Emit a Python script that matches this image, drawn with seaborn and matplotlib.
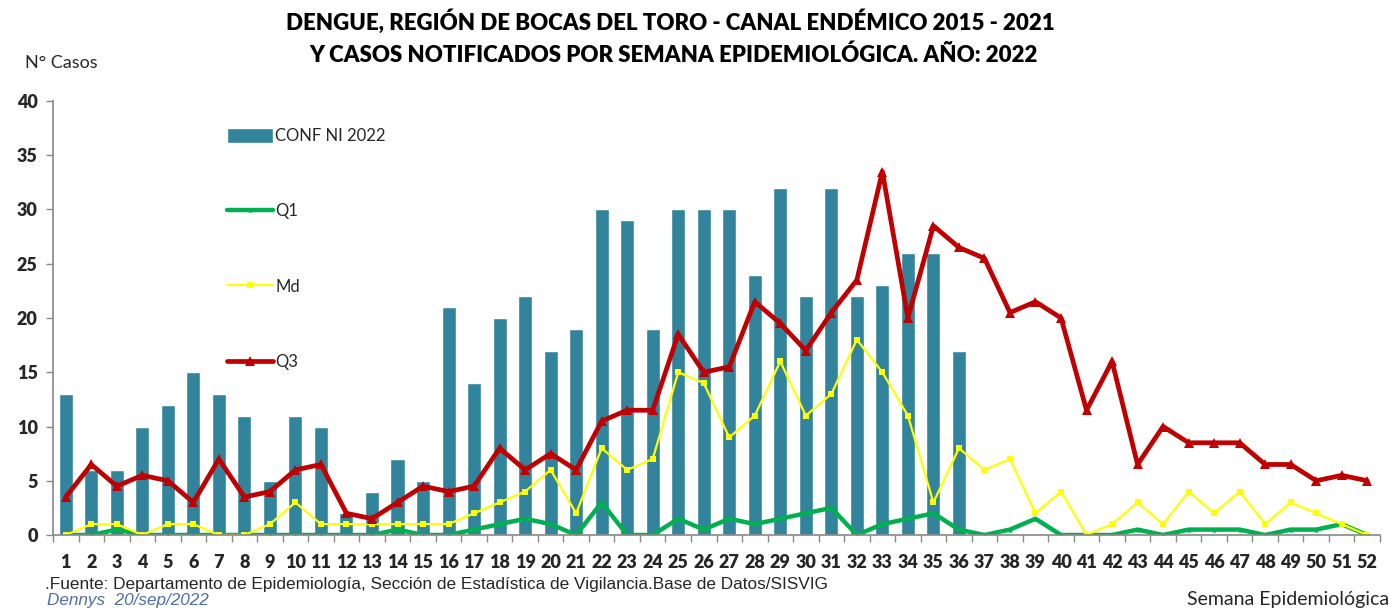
import numpy as np
import pandas as pd
import matplotlib
matplotlib.use("Agg")
import matplotlib.pyplot as plt
import seaborn as sns

weeks = list(range(1, 53))
conf_2022 = [13, 6, 6, 10, 12, 15, 13, 11, 5, 11, 10, 2, 4, 7, 5, 21, 14, 20, 22, 17,
             19, 30, 29, 19, 30, 30, 30, 24, 32, 22, 32, 22, 23, 26, 26, 17]
q1 = [0, 0, 0.5, 0, 0, 0, 0, 0, 0, 0, 0, 0, 0, 0.5, 0, 0, 0.5, 1, 1.5, 1,
      0, 3, 0, 0, 1.5, 0.5, 1.5, 1, 1.5, 2, 2.5, 0, 1, 1.5, 2, 0.5, 0, 0.5, 1.5, 0,
      0, 0, 0.5, 0, 0.5, 0.5, 0.5, 0, 0.5, 0.5, 1, 0]
md = [0, 1, 1, 0, 1, 1, 0, 0, 1, 3, 1, 1, 1, 1, 1, 1, 2, 3, 4, 6,
      2, 8, 6, 7, 15, 14, 9, 11, 16, 11, 13, 18, 15, 11, 3, 8, 6, 7, 2, 4,
      0, 1, 3, 1, 4, 2, 4, 1, 3, 2, 1, 0]
q3 = [3.5, 6.5, 4.5, 5.5, 5, 3, 7, 3.5, 4, 6, 6.5, 2, 1.5, 3, 4.5, 4, 4.5, 8, 6, 7.5,
      6, 10.5, 11.5, 11.5, 18.5, 15, 15.5, 21.5, 19.5, 17, 20.5, 23.5, 33.5, 20, 28.5, 26.5, 25.5, 20.5, 21.5, 20,
      11.5, 16, 6.5, 10, 8.5, 8.5, 8.5, 6.5, 6.5, 5, 5.5, 5]
y_ticks = [0, 5, 10, 15, 20, 25, 30, 35, 40]

title_lines = ["DENGUE, REGIÓN DE BOCAS DEL TORO - CANAL ENDÉMICO 2015 - 2021",
               "Y CASOS NOTIFICADOS POR SEMANA EPIDEMIOLÓGICA. AÑO: 2022"]

df = pd.DataFrame({"week": weeks,
                   "conf": conf_2022 + [np.nan] * (len(weeks) - len(conf_2022)),
                   "Q1": q1, "Md": md, "Q3": q3})

sns.set_style("white")
plt.rcParams["font.family"] = ["Lato", "DejaVu Sans"]

fig = plt.figure(figsize=(13.89, 6.09), dpi=100)
ax = fig.add_axes([53 / 1389, (609 - 535) / 609, (1380 - 53) / 1389, (535 - 101) / 609])

bar_color = "#31849B"
sns.barplot(data=df, x="week", y="conf", native_scale=True, width=0.55,
            color=bar_color, saturation=1, ax=ax, label="CONF NI 2022")
sns.lineplot(data=df, x="week", y="Q1", color="#00B050", linewidth=3.2,
             marker="^", markersize=3, markeredgewidth=0, ax=ax, label="Q1")
sns.lineplot(data=df, x="week", y="Md", color="#FFFF00", linewidth=1.6,
             marker="s", markersize=4.5, markeredgewidth=0, ax=ax, label="Md")
sns.lineplot(data=df, x="week", y="Q3", color="#C00000", linewidth=3.4,
             marker="^", markersize=7, markeredgewidth=0, ax=ax, label="Q3")

ax.set_xlim(0.5, 52.5)
ax.set_ylim(0, 40)
ax.set_xlabel("")
ax.set_ylabel("")
ax.set_yticks(y_ticks)
ax.set_yticklabels([str(v) for v in y_ticks], fontsize=13, fontweight="heavy")
ax.set_xticks(weeks)
ax.set_xticklabels([str(w) for w in weeks], fontsize=13, fontweight="heavy")
ax.set_xticks(np.arange(0.5, 53, 1), minor=True)
ax.tick_params(axis="x", which="major", length=0, pad=14)
ax.tick_params(axis="x", which="minor", length=5, color="#888888", width=1, direction="out", bottom=True)
ax.tick_params(axis="y", which="major", length=5, color="#888888", width=1, direction="out", left=True, pad=6)
for s in ["top", "right"]:
    ax.spines[s].set_visible(False)
for s in ["left", "bottom"]:
    ax.spines[s].set_color("#888888")
    ax.spines[s].set_linewidth(1.2)
ax.grid(False)

handles, labels = ax.get_legend_handles_labels()
order = ["CONF NI 2022", "Q1", "Md", "Q3"]
hmap = dict(zip(labels, handles))
leg = ax.legend([hmap[k] for k in order], order, loc="upper left",
                bbox_to_anchor=(227 / 1389, 1 - 128 / 609), bbox_transform=fig.transFigure,
                frameon=False, fontsize=12, labelspacing=3.55, handlelength=2.75,
                handleheight=1.0, handletextpad=0.15, borderpad=0, borderaxespad=0)

fig.text(670 / 1389, 1 - 22 / 609, title_lines[0], ha="center", va="center",
         fontsize=16, fontweight="heavy", color="black")
fig.text(673 / 1389, 1 - 55 / 609, title_lines[1], ha="center", va="center",
         fontsize=16, fontweight="heavy", color="black")
fig.text(25 / 1389, 1 - 63 / 609, "N° Casos", ha="left", va="center", fontsize=13)
fig.text(45 / 1389, 1 - 585 / 609,
         ".Fuente: Departamento de Epidemiología, Sección de Estadística de Vigilancia.Base de Datos/SISVIG",
         ha="left", va="center", fontsize=12.4, family=["Liberation Sans", "DejaVu Sans"])
fig.text(47 / 1389, 1 - 600 / 609, "Dennys  20/sep/2022", ha="left", va="center",
         fontsize=12.3, style="italic", color="#4F6FA8", family=["Liberation Sans", "DejaVu Sans"])
fig.text(1389 / 1389, 1 - 599 / 609, "Semana Epidemiológica", ha="right", va="center", fontsize=14)

fig.savefig("out.png", dpi=100)
